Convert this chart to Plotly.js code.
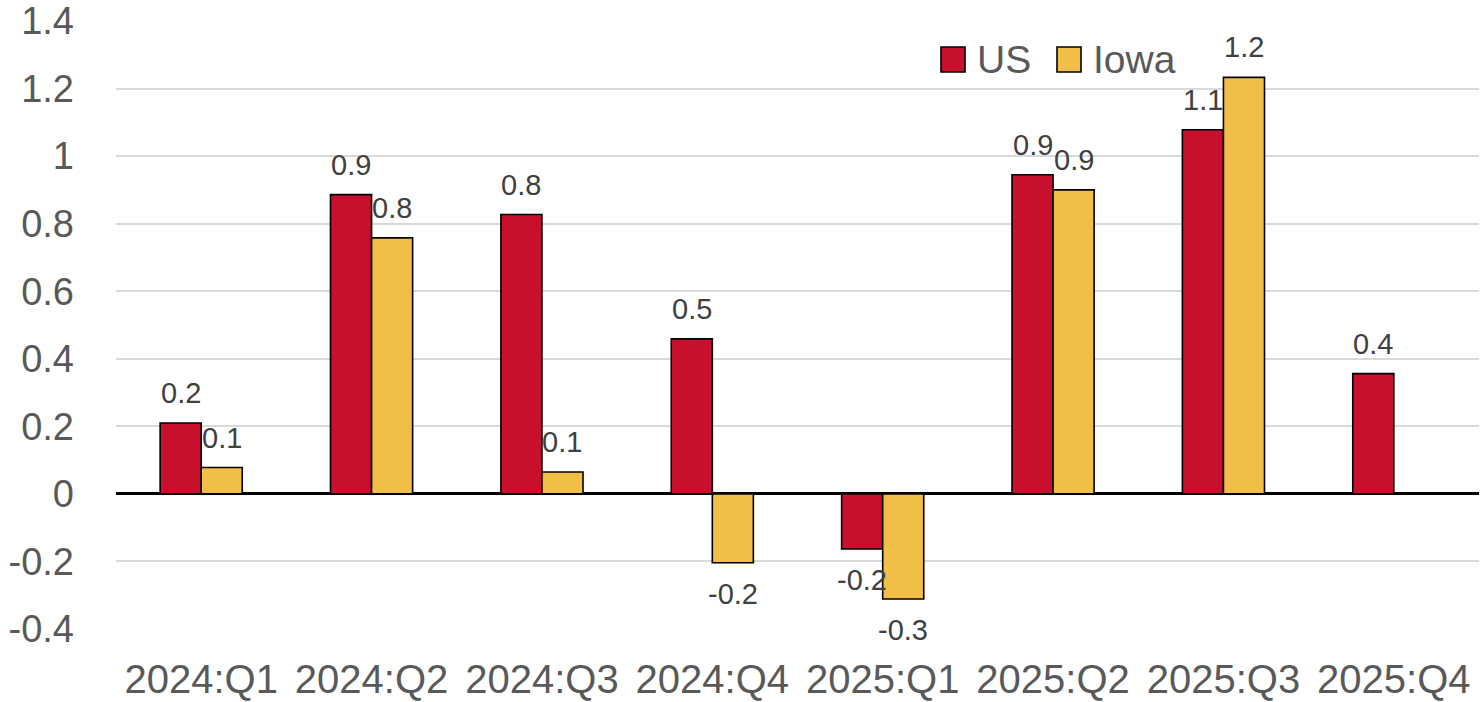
<!DOCTYPE html>
<html>
<head>
<meta charset="utf-8">
<script src="https://cdn.plot.ly/plotly-3.0.1.min.js"></script>
<style>
html,body{margin:0;padding:0;background:#fff;}
#chart{width:1480px;height:702px;}
</style>
</head>
<body>
<div id="chart"></div>
<script>
// ---- data ----
const categories = ["2024:Q1","2024:Q2","2024:Q3","2024:Q4","2025:Q1","2025:Q2","2025:Q3","2025:Q4"];
const seriesNames = ["US","Iowa"];
const usValues   = [0.21, 0.886, 0.827, 0.459, -0.163, 0.945, 1.078, 0.356];
const iowaValues = [0.078, 0.758, 0.065, -0.204, -0.311, 0.90, 1.233, null];
const yTickVals  = [-0.4,-0.2,0,0.2,0.4,0.6,0.8,1,1.2,1.4];
const yTickText  = ["-0.4","-0.2","0","0.2","0.4","0.6","0.8","1","1.2","1.4"];

// ---- style ----
const colors = ["#C8102E", "#F1BE48"];
const FONT = "Liberation Sans, Arial, sans-serif";
const W = 1480, H = 702;
const M = {l:116, r:1, t:21, b:73};
const plotW = W - M.l - M.r, plotH = H - M.t - M.b;
const barOffset = 20.5; // half bar width in px

const seriesValues = [usValues, iowaValues];
const traces = seriesValues.map((vals, i) => ({
  type: "bar",
  name: seriesNames[i],
  x: categories,
  y: vals,
  marker: {color: colors[i], line: {color: "#000", width: 1.6}},
  hoverinfo: "x+y+name"
}));

// data labels
const annotations = [];
seriesValues.forEach((vals, i) => {
  vals.forEach((v, j) => {
    if (v === null || v === undefined) return;
    const pos = v >= 0;
    annotations.push({
      xref: "x", yref: "y", x: categories[j], y: v,
      xshift: (i === 0 ? -1 : 1) * barOffset,
      yshift: pos ? 12 : -13,
      yanchor: pos ? "bottom" : "top",
      xanchor: "center",
      text: v.toFixed(1),
      showarrow: false,
      font: {family: FONT, size: 29, color: "#404040"}
    });
  });
});

// custom legend (positions in pixels converted to paper coords)
const px2x = p => (p - M.l) / plotW;
const py2y = p => (H - M.b - p) / plotH;
const legendItems = [
  {sx: 941, tx: 975},
  {sx: 1057, tx: 1091}
];
const shapes = [];
legendItems.forEach((it, i) => {
  shapes.push({
    type: "rect", xref: "paper", yref: "paper",
    x0: px2x(it.sx), x1: px2x(it.sx + 24),
    y0: py2y(72), y1: py2y(47),
    fillcolor: colors[i], line: {color: "#000", width: 1.6}
  });
  annotations.push({
    xref: "paper", yref: "paper",
    x: px2x(it.tx), y: py2y(59.5),
    xanchor: "left", yanchor: "middle",
    text: seriesNames[i], showarrow: false,
    font: {family: FONT, size: 39, color: "#595959"}
  });
});

const layout = {
  width: W, height: H,
  margin: M,
  paper_bgcolor: "#fff", plot_bgcolor: "#fff",
  barmode: "group",
  bargap: 0.518,
  bargroupgap: 0,
  showlegend: false,
  font: {family: FONT, color: "#595959"},
  xaxis: {
    type: "category",
    automargin: false,
    showgrid: false,
    showline: false,
    ticks: "",
    ticklabelstandoff: 23,
    tickfont: {family: FONT, size: 40, color: "#595959"}
  },
  yaxis: {
    range: [-0.4, 1.4],
    automargin: false,
    tickvals: yTickVals,
    ticktext: yTickText,
    showgrid: true,
    gridcolor: "#d9d9d9",
    gridwidth: 2,
    zeroline: true,
    zerolinecolor: "#000",
    zerolinewidth: 3,
    showline: false,
    ticks: "",
    ticklabelstandoff: 41,
    tickfont: {family: FONT, size: 38, color: "#595959"}
  },
  annotations: annotations,
  shapes: shapes
};

Plotly.newPlot("chart", traces, layout, {displayModeBar: false, staticPlot: true});
</script>
</body>
</html>
